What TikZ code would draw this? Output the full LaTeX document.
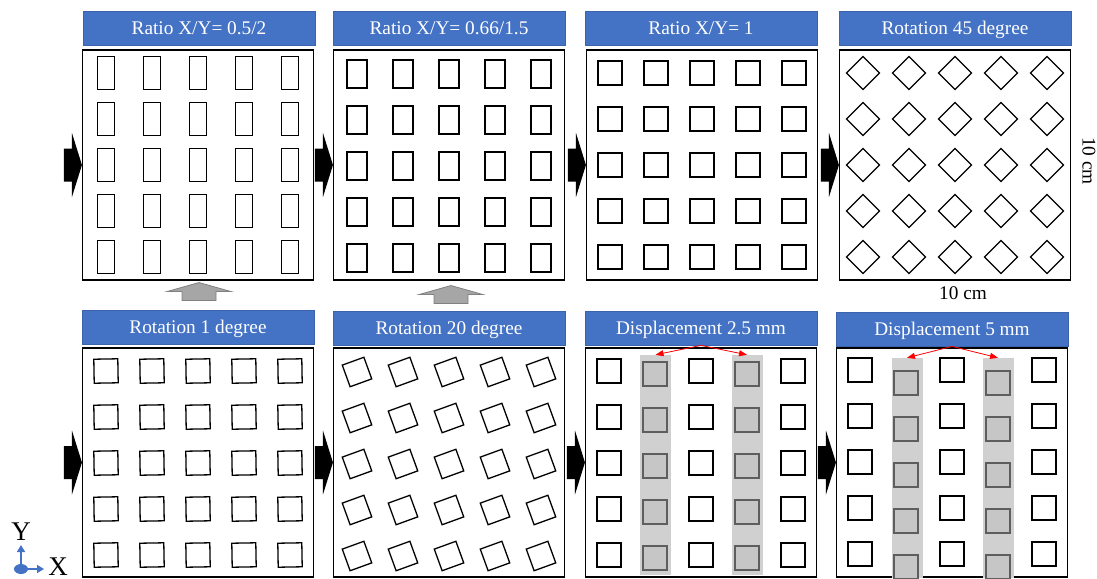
\documentclass[tikz,border=0pt]{standalone}
\usepackage{fontspec}
\setmainfont{Liberation Serif}
\usetikzlibrary{arrows.meta,calc,shapes.geometric}
\definecolor{hblue}{HTML}{4472C4}
\definecolor{hborder}{HTML}{3B64AD}
\definecolor{stripc}{HTML}{D0D0D0}
\definecolor{gsqfill}{HTML}{C6C6C6}
\definecolor{gsqline}{HTML}{5E5E5E}
\definecolor{upfill}{HTML}{A6A6A6}
\definecolor{upline}{HTML}{808080}
\tikzset{
  header/.style={draw=hborder, fill=hblue, text=white, minimum width=232pt, minimum height=34pt,
    inner sep=0pt, line width=0.8pt, font=\fontsize{19.3}{22}\selectfont, text height=12.7pt, text depth=0pt},
  panel/.style={draw=black, line width=1.1pt, minimum width=231pt, minimum height=230pt, inner sep=0pt},
  panelb/.style={panel, minimum height=229pt},
  cell/.style={draw=black, line width=1.3pt},
  gcell/.style={draw=gsqline, fill=gsqfill, line width=1.3pt},
  stripbox/.style={fill=stripc, draw=none, minimum width=31pt, minimum height=220pt, inner sep=0pt},
  redarrow/.style={draw=red, line width=0.8pt, -{Triangle[length=8pt,width=6pt]}},
  axarrow/.style={draw=hblue, line width=1.5pt, -{Triangle[length=7pt,width=8pt]}},
  lbl/.style={font=\fontsize{19.3}{22}\selectfont, inner sep=0pt},
  axlbl/.style={font=\fontsize{27}{30}\selectfont, inner sep=0pt, text height=18pt, text depth=0pt},
  blockarrow/.pic={\fill[black] (-18,-16.5) -- (-10,-16.5) -- (-10,-32) -- (0,0) -- (-10,32) -- (-10,16.5) -- (-18,16.5) -- cycle;},
  uparrow/.pic={\filldraw[fill=upfill, draw=upline, line width=0.8pt] (0,0) -- (32,9) -- (17,9) -- (17,18) -- (-17,18) -- (-17,9) -- (-32,9) -- cycle;}
}
\begin{document}
\begin{tikzpicture}[x=1pt,y=-1pt]
\useasboundingbox (0,0) rectangle (1097,578);

% headers
\node[header] (h1) at (199,28) {Ratio X/Y= 0.5/2};
\node[header] (h2) at (449,28) {Ratio X/Y= 0.66/1.5};
\node[header] (h3) at (701,28) {Ratio X/Y= 1};
\node[header] (h4) at (955,28) {Rotation 45 degree};
\node[header] (h5) at (198,327) {Rotation 1 degree};
\node[header] (h6) at (449,328) {Rotation 20 degree};
\node[header] (h7) at (701,328) {Displacement 2.5 mm};
\node[header] (h8) at (952,329) {Displacement 5 mm};

% panels
\node[panel] (p1) at (198,165) {};
\node[panel] (p2) at (449,165) {};
\node[panel] (p3) at (702,165) {};
\node[panel] (p4) at (955,165) {};
\node[panelb] (q1) at (198,462.5) {};
\node[panelb] (q2) at (449,462.5) {};
\node[panelb] (q3) at (701,462.5) {};
\node[panelb] (q4) at (952,462.5) {};

% strips
\node[stripbox] (s3a) at (655.5,465) {};
\node[stripbox] (s3b) at (747,465) {};
\node[stripbox] (s4a) at (907,468) {};
\node[stripbox] (s4b) at (998,468) {};

% panel 1 : tall rectangles
\foreach \i in {-2,...,2} \foreach \j in {-2,...,2}
  {\draw[cell] (198+\i*46-8.5, 165+\j*46-16.5) rectangle ++(17,33);}
% panel 2
\foreach \i in {-2,...,2} \foreach \j in {-2,...,2}
  {\draw[cell] (449+\i*46-10, 166+\j*46-14) rectangle ++(20,28);}
% panel 3
\foreach \i in {-2,...,2} \foreach \j in {-2,...,2}
  {\draw[cell] (702+\i*46-12, 165+\j*46-12) rectangle ++(24,24);}
% panel 4 diamonds
\foreach \i in {-2,...,2} \foreach \j in {-2,...,2}
  {\draw[cell] (955+\i*46-16.5, 165+\j*46) -- ++(16.5,-16.5) -- ++(16.5,16.5) -- ++(-16.5,16.5) -- cycle;}
% q1 rotation 1
\foreach \i in {-2,...,2} \foreach \j in {-2,...,2}
  {\begin{scope}[shift={(198+\i*46,463+\j*46)}, rotate=1]
    \draw[cell] (-12,-12) rectangle (12,12);
  \end{scope}}
% q2 rotation 20
\foreach \i in {-2,...,2} \foreach \j in {-2,...,2}
  {\begin{scope}[shift={(449+\i*46,464+\j*46)}, rotate=20]
    \draw[cell] (-11.5,-11.5) rectangle (11.5,11.5);
  \end{scope}}
% q3 displacement 2.5
\foreach \i in {-2,0,2} \foreach \j in {-2,...,2}
  {\draw[cell] (701+\i*46-12, 463+\j*46-12) rectangle ++(24,24);}
\foreach \i in {-1,1} \foreach \j in {-2,...,2}
  {\draw[gcell] (701+\i*46-12, 466+\j*46-12) rectangle ++(24,24);}
% q4 displacement 5
\foreach \i in {-2,0,2} \foreach \j in {-2,...,2}
  {\draw[cell] (952+\i*46-12, 462+\j*46-12) rectangle ++(24,24);}
\foreach \i in {-1,1} \foreach \j in {-2,...,2}
  {\draw[gcell] (952+\i*46-12, 475+\j*46-12) rectangle ++(24,24);}

% block arrows into panels
\foreach \p in {p1,p2,p3,p4,q1,q2,q3,q4}
  {\pic at (\p.west) {blockarrow};}

% gray up arrows
\pic at ($(p1.south)+(1,2)$) {uparrow};
\pic at ($(p2.south)+(2,5)$) {uparrow};

% red arrows
\draw[redarrow] (h7.south) -- (s3a.north);
\draw[redarrow] (h7.south) -- (s3b.north);
\draw[redarrow] (h8.south) -- (s4a.north);
\draw[redarrow] (h8.south) -- (s4b.north);

% dimension labels
\node[lbl] (wlbl) at (963,293) {10 cm};
\node[lbl, rotate=-90] (hlbl) at (1089,161) {10 cm};

% axes
\node[ellipse, fill=hblue, minimum width=14pt, minimum height=10pt, inner sep=0pt] (origin) at (21,569) {};
\coordinate (ytip) at (21,545);
\coordinate (xtip) at (44,569);
\draw[axarrow] (origin.north) -- (ytip);
\draw[axarrow] (origin.east) -- (xtip);
\node[axlbl] (ylab) at (21,531) {Y};
\node[axlbl] (xlab) at (58,566) {X};
\end{tikzpicture}
\end{document}
